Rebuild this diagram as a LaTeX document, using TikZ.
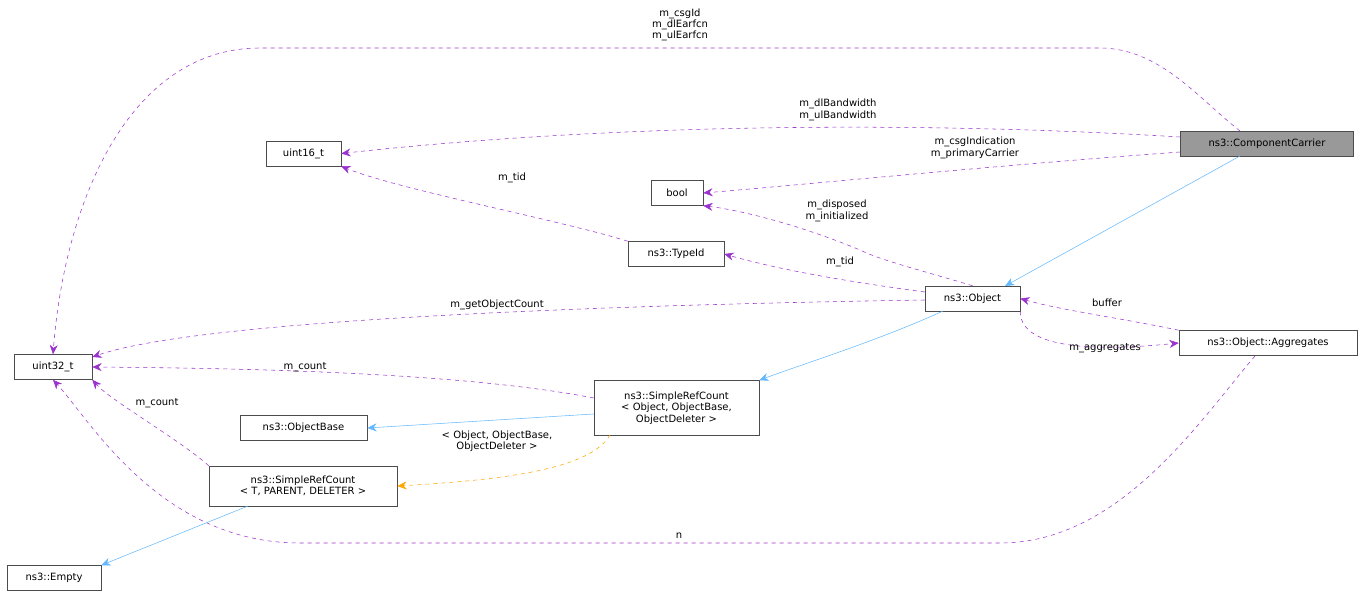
\documentclass[tikz,border=0pt]{standalone}
\usepackage{fontspec}
\setmainfont{DejaVu Sans}
\usetikzlibrary{arrows.meta}
\definecolor{usecol}{HTML}{9A32CD}
\definecolor{inhcol}{HTML}{63B8FF}
\definecolor{tplcol}{HTML}{FFA500}

\begin{document}
\begin{tikzpicture}[x=0.75pt,y=-0.75pt,
    box/.style={draw=black!70, fill=white, inner sep=2pt, font=\fontsize{7.5}{8.5}\selectfont, align=center},
    use/.style={draw=usecol, dashed, -{Stealth[length=7pt,width=6pt]}},
    inherit/.style={draw=inhcol, -{Stealth[length=7pt,width=6pt]}},
    tpl/.style={draw=tplcol, dashed, -{Stealth[length=7pt,width=6pt]}},
    lbl/.style={font=\fontsize{7.5}{8.5}\selectfont, align=center, inner sep=1pt}]
    \useasboundingbox (0,0) rectangle (1363,595);

    % Nodes
    \node[box, fill=black!40, minimum width=129.75pt, minimum height=18.75pt] (cc) at (1267,143.5) {ns3::ComponentCarrier};
    \node[box, minimum width=56.25pt, minimum height=18.75pt] (u16) at (303.5,153.5) {uint16\_t};
    \node[box, minimum width=39pt, minimum height=18.75pt] (bool) at (677,193) {bool};
    \node[box, minimum width=72pt, minimum height=18.75pt] (tid) at (676,254) {ns3::TypeId};
    \node[box, minimum width=71.25pt, minimum height=18.75pt] (obj) at (972.5,298.5) {ns3::Object};
    \node[box, minimum width=133.5pt, minimum height=18.75pt] (agg) at (1268,343) {ns3::Object::Aggregates};
    \node[box, minimum width=58.5pt, minimum height=18.75pt] (u32) at (53,367) {uint32\_t};
    \node[box, minimum width=123.75pt, minimum height=41.25pt] (src) at (676.5,408) {ns3::SimpleRefCount\\{}< Object, ObjectBase,\\ObjectDeleter >};
    \node[box, minimum width=95.25pt, minimum height=18.75pt] (ob) at (303.5,428) {ns3::ObjectBase};
    \node[box, minimum width=141pt, minimum height=30pt] (srct) at (303,486) {ns3::SimpleRefCount\\{}< T, PARENT, DELETER >};
    \node[box, minimum width=70.5pt, minimum height=18.75pt] (empty) at (54,578) {ns3::Empty};

    % Members
    \draw[use] (1240,131) .. controls (1200,100) and (1160,48) .. (1100,48) -- (260,48)
        .. controls (130,48) and (65,200) .. (u32.north);
    \node[lbl] at (680,25) {m\_csgId\\m\_dlEarfcn\\m\_ulEarfcn};
    \draw[use] (cc.west |- 0,137) .. controls (900,120) and (600,125) .. (u16.east);
    \node[lbl] at (838,110) {m\_dlBandwidth\\m\_ulBandwidth};
    \draw[use] (cc.west |- 0,152) .. controls (1000,165) and (800,185) .. (bool.east);
    \node[lbl] at (975,148) {m\_csgIndication\\m\_primaryCarrier};
    \draw[use] (tid.north west) .. controls (560,220) and (400,190) .. (u16.south east);
    \node[lbl] at (512,178) {m\_tid};
    \draw[use] (obj.north) .. controls (920,270) and (880,260) .. (860,250) .. controls (800,225) and (740,210) .. (bool.south east);
    \node[lbl] at (837,211) {m\_disposed\\m\_initialized};
    \draw[use] (obj.west |- 0,292) .. controls (850,282) and (780,270) .. (tid.east);
    \node[lbl] at (840,262) {m\_tid};
    \draw[use] (obj.west |- 0,300) .. controls (600,305) and (200,320) .. (u32.east |- 0,357);
    \node[lbl] at (497,305) {m\_getObjectCount};
    \draw[use] (agg.north west) .. controls (1120,318) and (1060,310) .. (obj.east);
    \node[lbl] at (1107,303) {buffer};
    \draw[use] (obj.south east) .. controls (1020,345) and (1080,353) .. (agg.west);
    \node[lbl] at (1105,348) {m\_aggregates};
    \draw[use] (src.west |- 0,398) .. controls (450,370) and (200,368) .. (u32.east);
    \node[lbl] at (305,367) {m\_count};
    \draw[use] (srct.north west) .. controls (180,440) and (110,400) .. (u32.south east);
    \node[lbl] at (157,403) {m\_count};
    \draw[use] (1255,356) .. controls (1200,420) and (1120,543) .. (1000,543) -- (300,543)
        .. controls (160,543) and (90,420) .. (u32.south);
    \node[lbl] at (679,536) {n};

    % Inheritance
    \draw[inherit] (1240,156) -- (1005,286);
    \draw[inherit] (943,311) .. controls (880,340) and (800,365) .. (src.north east);
    \draw[inherit] (src.west |- 0,414) -- (ob.east);
    \draw[inherit] (248,506) -- (empty.north east);

    % Template instance
    \draw[tpl] (610,435) .. controls (590,470) and (500,480) .. (srct.east);
    \node[lbl] at (497,441) {< Object, ObjectBase,\\ObjectDeleter >};
\end{tikzpicture}
\end{document}
